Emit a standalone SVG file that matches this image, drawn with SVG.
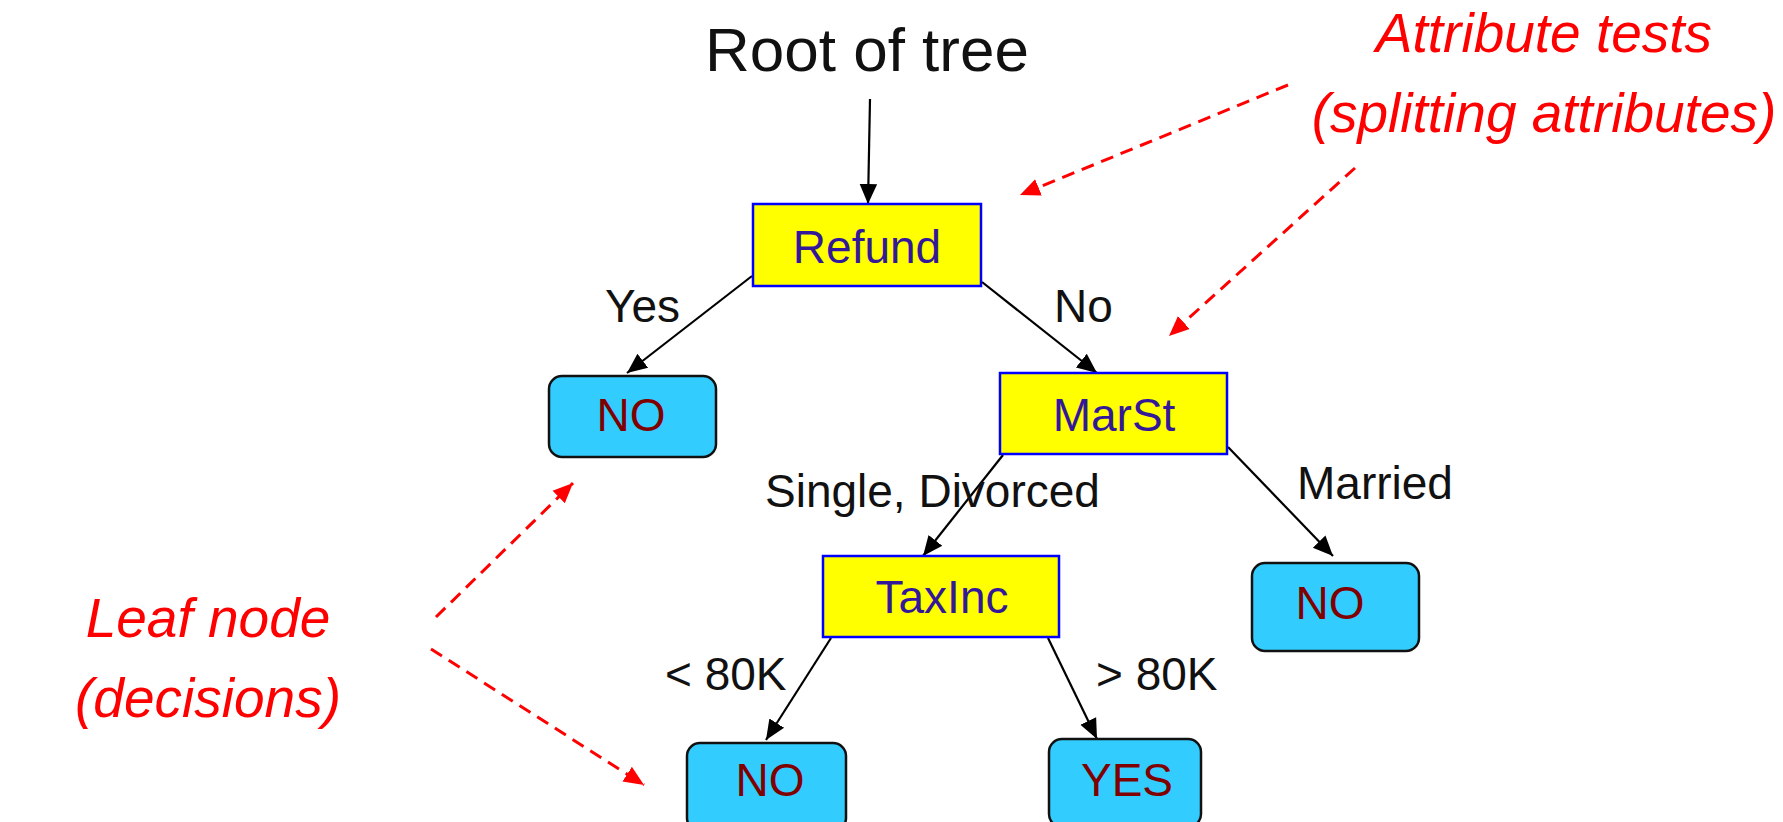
<svg xmlns="http://www.w3.org/2000/svg" width="1783" height="822" viewBox="0 0 1783 822">
<defs>
<style>
.test rect{fill:#FFFF00;stroke:#0000FF;stroke-width:2.5}
.test text{fill:#33199A;font-family:"Liberation Sans",Arial,sans-serif;font-size:46px;text-anchor:middle}
.leaf rect{fill:#33CCFF;stroke:#111;stroke-width:2.5}
.leaf text{fill:#800000;font-family:"Liberation Sans",Arial,sans-serif;font-size:46px;text-anchor:middle}
.lbl{fill:#111;font-family:"Liberation Sans",Arial,sans-serif;font-size:46px}
.note{fill:#FF0000;font-family:"Liberation Sans",Arial,sans-serif;font-size:55px;font-style:italic;text-anchor:middle}
.edge{stroke:#000;stroke-width:2.2;fill:none;marker-end:url(#ah)}
.dash{stroke:#FF0000;stroke-width:3;fill:none;stroke-dasharray:13 8;marker-end:url(#rh)}
</style>
<marker id="ah" markerUnits="userSpaceOnUse" markerWidth="20" markerHeight="20" viewBox="0 0 16 14" refX="16" refY="7" orient="auto">
<path d="M0,0 L16,7 L0,14 Z" fill="#000"/>
</marker>
<marker id="rh" markerUnits="userSpaceOnUse" markerWidth="20" markerHeight="20" viewBox="0 0 16 14" refX="16" refY="7" orient="auto">
<path d="M0,0 L16,7 L0,14 Z" fill="#FF0000"/>
</marker>
</defs>
<rect width="1783" height="822" fill="#FFFFFF"/>

<g id="root-label">
<text class="lbl" x="705" y="71" style="font-size:62px">Root of tree</text>
</g>

<g id="connectors">
<line class="edge" x1="870" y1="99" x2="868" y2="204"/>
<line class="edge" x1="752" y1="276" x2="627" y2="373"/>
<line class="edge" x1="982" y1="282" x2="1097" y2="373"/>
<line class="edge" x1="1003" y1="455" x2="923" y2="556"/>
<line class="edge" x1="1228" y1="447" x2="1333" y2="556"/>
<line class="edge" x1="831" y1="638" x2="766" y2="740"/>
<line class="edge" x1="1048" y1="638" x2="1097" y2="739"/>
<line class="dash" x1="1288" y1="85" x2="1020" y2="195"/>
<line class="dash" x1="1355" y1="168" x2="1169" y2="336"/>
<line class="dash" x1="436" y1="617" x2="573" y2="483"/>
<line class="dash" x1="431" y1="649" x2="644" y2="785"/>
</g>

<g id="edge-labels">
<text class="lbl" x="605" y="322">Yes</text>
<text class="lbl" x="1054" y="322">No</text>
<text class="lbl" x="765" y="507">Single, Divorced</text>
<text class="lbl" x="1297" y="499">Married</text>
<text class="lbl" x="665" y="690">&lt; 80K</text>
<text class="lbl" x="1096" y="690">&gt; 80K</text>
</g>

<g id="refund" class="test">
<rect x="753" y="204" width="228" height="82"/>
<text x="867" y="263">Refund</text>
</g>

<g id="marst" class="test">
<rect x="1000" y="373" width="227" height="81"/>
<text x="1114" y="431">MarSt</text>
</g>

<g id="taxinc" class="test">
<rect x="823" y="556" width="236" height="81"/>
<text x="942" y="613">TaxInc</text>
</g>

<g id="leaf-refund-yes" class="leaf">
<rect x="549" y="376" width="167" height="81" rx="13"/>
<text x="631" y="431">NO</text>
</g>

<g id="leaf-married" class="leaf">
<rect x="1252" y="563" width="167" height="88" rx="13"/>
<text x="1330" y="619">NO</text>
</g>

<g id="leaf-low" class="leaf">
<rect x="687" y="743" width="159" height="88" rx="13"/>
<text x="770" y="796">NO</text>
</g>

<g id="leaf-high" class="leaf">
<rect x="1049" y="739" width="152" height="88" rx="13"/>
<text x="1127" y="796">YES</text>
</g>

<g id="note-attr">
<text class="note" x="1544" y="52">Attribute tests</text>
<text class="note" x="1544" y="132">(splitting attributes)</text>
</g>

<g id="note-leaf">
<text class="note" x="208" y="637">Leaf node</text>
<text class="note" x="208" y="717">(decisions)</text>
</g>
</svg>
